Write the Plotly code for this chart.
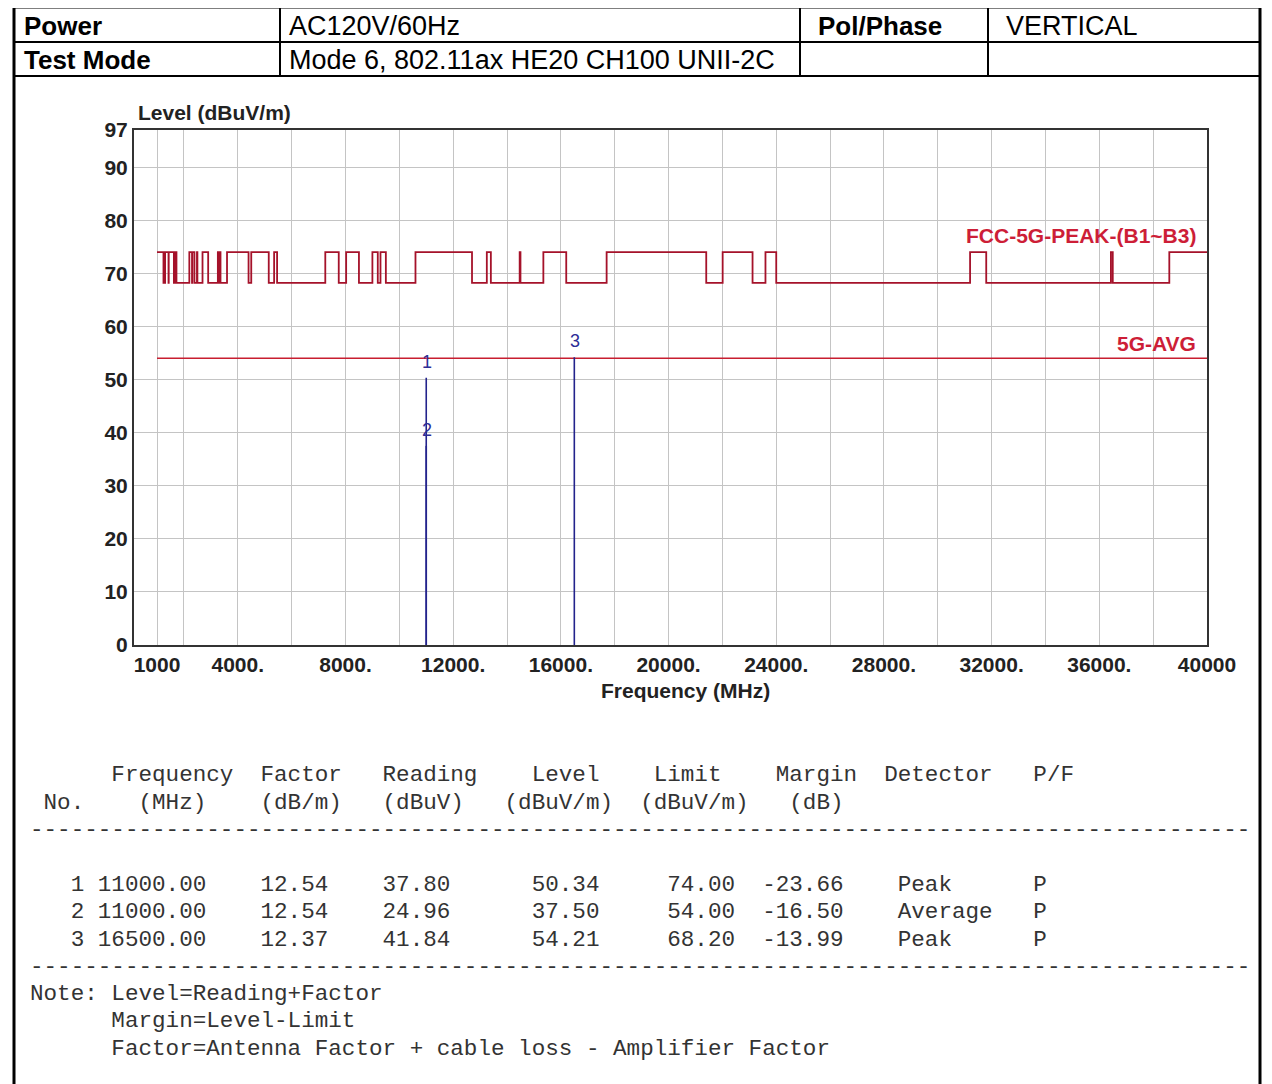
import plotly.graph_objects as go

PAGE_W, PAGE_H = 1272, 1084
OFF = 8  # default body margin of the html page
W, H = PAGE_W - OFF, PAGE_H - OFF

# ---------------- data ----------------
power_text = "AC120V/60Hz"
pol_text = "VERTICAL"
test_mode_text = "Mode 6, 802.11ax HE20 CH100 UNII-2C"

scan_start = 1000
scan_stop = 40000

# FCC restricted bands (peak limit 74 dBuV/m inside, 68.2 outside)
restricted_start = [960, 1300, 1435, 1645.5, 1660, 1718.8, 2200, 2310, 2483.5, 2690,
                    3260, 3332, 3345.8, 3600, 4500, 5350, 7250, 8025, 9000, 9300,
                    10600, 13250, 14470, 15350, 17700, 22010, 23600, 31200, 36430, 38600]
restricted_stop = [1240, 1427, 1626.5, 1646.5, 1710, 1722.2, 2300, 2390, 2500, 2900,
                   3267, 3339, 3358, 4400, 5150, 5460, 7750, 8500, 9200, 9500,
                   12700, 13400, 14500, 16200, 21400, 23120, 24000, 31800, 36500, 40000]
peak_limit_restricted = 74.0
peak_limit_other = 68.2
avg_limit = 54.0

marker_no = [1, 2, 3]
marker_freq = [11000.00, 11000.00, 16500.00]
marker_factor = [12.54, 12.54, 12.37]
marker_reading = [37.80, 24.96, 41.84]
marker_level = [50.34, 37.50, 54.21]
marker_limit = [74.00, 54.00, 68.20]
marker_margin = [-23.66, -16.50, -13.99]
marker_detector = ["Peak", "Average", "Peak"]
marker_pf = ["P", "P", "P"]

x_tick_vals = [1000, 4000, 8000, 12000, 16000, 20000, 24000, 28000, 32000, 36000, 40000]
x_tick_text = ["1000", "4000.", "8000.", "12000.", "16000.", "20000.", "24000.",
               "28000.", "32000.", "36000.", "40000"]
x_grid_vals = [1000, 2000, 4000, 6000, 8000, 10000, 12000, 14000, 16000, 18000, 20000,
               22000, 24000, 26000, 28000, 30000, 32000, 34000, 36000, 38000]
y_tick_vals = [0, 10, 20, 30, 40, 50, 60, 70, 80, 90, 97]


# ---------------- helpers (page pixel -> paper fraction) ----------------
def px(x):
    return (x - OFF) / W


def py(y):
    return 1 - (y - OFF) / H


# build peak limit step line from restricted bands
breaks = sorted(set([scan_start] + [b for b in restricted_start + restricted_stop
                                      if scan_start < b < scan_stop]))
peak_x, peak_y = [], []
for b in breaks:
    inside = any(s <= b < e for s, e in zip(restricted_start, restricted_stop))
    peak_x.append(b)
    peak_y.append(peak_limit_restricted if inside else peak_limit_other)
peak_x.append(scan_stop)
peak_y.append(peak_y[-1])

fig = go.Figure()

fig.add_trace(go.Scatter(x=peak_x, y=peak_y, mode="lines", line_shape="hv",
                         line=dict(color="rgb(165,18,42)", width=1.8),
                         hoverinfo="skip", showlegend=False))
fig.add_trace(go.Scatter(x=[scan_start, scan_stop], y=[avg_limit, avg_limit], mode="lines",
                         line=dict(color="rgb(200,30,48)", width=1.6),
                         hoverinfo="skip", showlegend=False))
for f, lv in zip(marker_freq, marker_level):
    fig.add_trace(go.Scatter(x=[f, f], y=[0, lv], mode="lines",
                             line=dict(color="rgb(35,35,140)", width=1.6),
                             hoverinfo="skip", showlegend=False))

annotations = []
for n, f, lv in zip(marker_no, marker_freq, marker_level):
    annotations.append(dict(x=f, y=lv, xref="x", yref="y", text=str(n), showarrow=False,
                            yanchor="middle", xanchor="center", yshift=16, xshift=1,
                            font=dict(size=18, color="rgb(45,45,150)",
                                      family="Liberation Sans, Arial")))

lim_font = dict(size=21, color="rgb(205,30,55)", family="Liberation Sans, Arial", weight="bold")
annotations.append(dict(x=0.992, y=peak_limit_restricted, xref="x domain", yref="y",
                        text="FCC-5G-PEAK-(B1~B3)", showarrow=False, xanchor="right",
                        yanchor="middle", yshift=17, font=lim_font))
annotations.append(dict(x=0.992, y=avg_limit, xref="x domain", yref="y",
                        text="5G-AVG", showarrow=False, xanchor="right",
                        yanchor="middle", yshift=15, font=lim_font))

axis_font = dict(size=21, color="#222222", family="Liberation Sans, Arial", weight="bold")
annotations.append(dict(x=px(136), y=py(113), xref="paper", yref="paper",
                        text="Level (dBuV/m)", showarrow=False, xanchor="left",
                        yanchor="middle", font=axis_font))
annotations.append(dict(x=px(685), y=py(690), xref="paper", yref="paper",
                        text="Frequency (MHz)", showarrow=False, xanchor="center",
                        yanchor="middle", font=axis_font))

# header table text
hdr_bold = dict(size=26, color="black", family="Liberation Sans, Arial", weight="bold")
hdr_norm = dict(size=27, color="black", family="Liberation Sans, Arial")
for txt, x, y, fnt in [("Power", 22, 26, hdr_bold), (power_text, 287, 26, hdr_norm),
                       ("Pol/Phase", 816, 26, hdr_bold), (pol_text, 1004, 26, hdr_norm),
                       ("Test Mode", 22, 60, hdr_bold), (test_mode_text, 287, 60, hdr_norm)]:
    annotations.append(dict(x=px(x), y=py(y), xref="paper", yref="paper", text=txt,
                            showarrow=False, xanchor="left", yanchor="middle", font=fnt))


# lower data table (monospace)
def place(items, width=92):
    line = [" "] * width
    for col, s in items:
        for i, ch in enumerate(s):
            line[col + i] = ch
    return "".join(line).rstrip()


table_lines = []
table_lines.append((775, place([(6, "Frequency"), (17, "Factor"), (26, "Reading"), (37, "Level"),
                                (46, "Limit"), (55, "Margin"), (63, "Detector"), (74, "P/F")])))
table_lines.append((803, place([(1, "No."), (8, "(MHz)"), (17, "(dB/m)"), (26, "(dBuV)"),
                                (35, "(dBuV/m)"), (45, "(dBuV/m)"), (56, "(dB)")])))
table_lines.append((830, "-" * 90))
row_y = [885, 912, 940]
for i in range(len(marker_no)):
    table_lines.append((row_y[i], place([
        (3, str(marker_no[i])), (5, f"{marker_freq[i]:.2f}"), (17, f"{marker_factor[i]:.2f}"),
        (26, f"{marker_reading[i]:.2f}"), (37, f"{marker_level[i]:.2f}"),
        (47, f"{marker_limit[i]:.2f}"), (54, f"{marker_margin[i]:.2f}"),
        (64, marker_detector[i]), (74, marker_pf[i])])))
table_lines.append((967, "-" * 90))
table_lines.append((994, "Note: Level=Reading+Factor"))
table_lines.append((1021, "      Margin=Level-Limit"))
table_lines.append((1049, "      Factor=Antenna Factor + cable loss - Amplifier Factor"))

mono = dict(size=22.6, color="#333333", family="Liberation Mono, DejaVu Sans Mono, monospace")
for y, s in table_lines:
    annotations.append(dict(x=px(28), y=py(y), xref="paper", yref="paper",
                            text=s.replace(" ", "\u00a0"), showarrow=False,
                            xanchor="left", yanchor="middle", font=mono))

# header table borders
shapes = []
thick = dict(color="black", width=3)
thin = dict(color="black", width=2)
shapes.append(dict(type="line", xref="paper", yref="paper", x0=px(14), x1=px(14),
                   y0=py(6), y1=py(PAGE_H), line=thick))
shapes.append(dict(type="line", xref="paper", yref="paper", x0=px(1260), x1=px(1260),
                   y0=py(6), y1=py(PAGE_H), line=thick))
shapes.append(dict(type="line", xref="paper", yref="paper", x0=px(13), x1=px(1261),
                   y0=py(7), y1=py(7), line=thick))
for yy in (42, 76):
    shapes.append(dict(type="line", xref="paper", yref="paper", x0=px(14), x1=px(1260),
                       y0=py(yy), y1=py(yy), line=thin))
for xx in (280, 800, 988):
    shapes.append(dict(type="line", xref="paper", yref="paper", x0=px(xx), x1=px(xx),
                       y0=py(7), y1=py(76), line=thin))

fig.update_layout(
    width=W, height=H,
    margin=dict(l=0, r=0, t=0, b=0),
    paper_bgcolor="white", plot_bgcolor="white",
    font=dict(family="Liberation Sans, Arial", color="#222222"),
    showlegend=False,
    annotations=annotations,
    shapes=shapes,
    xaxis=dict(domain=[px(134), px(1207)], range=[145, 40000],
               tickmode="array", tickvals=x_tick_vals, ticktext=x_tick_text,
               showgrid=False, zeroline=False, ticks="",
               showline=True, mirror=True, linecolor="#333333", linewidth=2,
               tickfont=axis_font, automargin=False,
               minor=dict(tickmode="array", tickvals=x_grid_vals, showgrid=True,
                          gridcolor="#c4c4c4", gridwidth=1, ticks="")),
    yaxis=dict(domain=[py(645), py(130)], range=[0, 97],
               tickmode="array", tickvals=y_tick_vals,
               showgrid=True, gridcolor="#c4c4c4", gridwidth=1, zeroline=False, ticks="",
               showline=True, mirror=True, linecolor="#333333", linewidth=2,
               tickfont=axis_font, automargin=False),
)

fig.write_html("out.html")
